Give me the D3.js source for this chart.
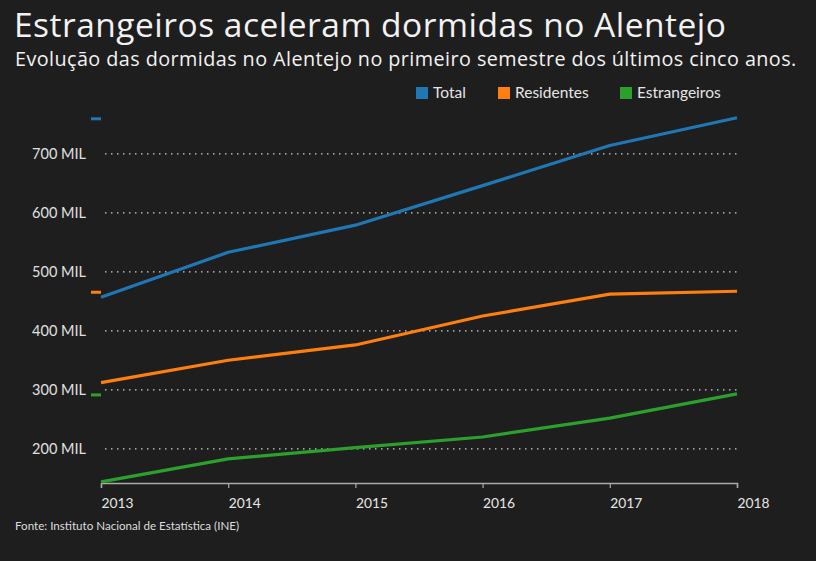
<!DOCTYPE html>
<html>
<head>
  <meta charset="utf-8">
  <script src="https://cdn.jsdelivr.net/npm/d3@7"></script>
  <style>
    body { margin: 0; background: #1e1e1e; }
    text { font-family: Lato, "Open Sans", sans-serif; }
    .head { font-family: "Open Sans", Lato, sans-serif; }
  </style>
</head>
<body>
<script>
  "use strict";

  // data (milhares de dormidas, 1.º semestre)
  var years = [2013, 2014, 2015, 2016, 2017, 2018];
  var total = [457, 533, 579, 646, 714, 761];
  var residentes = [312, 350, 376, 425, 462, 467];
  var estrangeiros = [144, 183, 202, 220, 252, 293];
  var seriesNames = ["Total", "Residentes", "Estrangeiros"];
  var seriesColors = ["#1f77b4", "#ff7f0e", "#2ca02c"];
  var yTicks = [200, 300, 400, 500, 600, 700];

  var width = 816, height = 561;
  var series = [total, residentes, estrangeiros];

  var svg = d3.select("body").append("svg")
      .attr("width", width)
      .attr("height", height);

  svg.append("rect").attr("width", width).attr("height", height).attr("fill", "#1e1e1e");

  var x = d3.scaleLinear().domain([2013, 2018]).range([101, 737]);
  var y = d3.scaleLinear().domain([142, 762]).range([483, 117.2]);

  /*
    titles
  */
  svg.append("text").attr("class", "head").attr("x", 14).attr("y", 37)
      .attr("fill", "#f2f2f2").attr("font-size", 33.5)
      .attr("letter-spacing", 0.5)
      .text("Estrangeiros aceleram dormidas no Alentejo");
  svg.append("text").attr("class", "head").attr("x", 15).attr("y", 66)
      .attr("fill", "#f2f2f2").attr("font-size", 19.8)
      .attr("letter-spacing", 0.43)
      .text("Evolução das dormidas no Alentejo no primeiro semestre dos últimos cinco anos.");

  // legend
  var legendX = [416, 498, 620];
  var legend = svg.selectAll(".legend").data(seriesNames).enter().append("g")
      .attr("transform", function(d, i) { return "translate(" + legendX[i] + ",87)"; });
  legend.append("rect").attr("width", 12).attr("height", 12)
      .attr("fill", function(d, i) { return seriesColors[i]; });
  legend.append("text").attr("x", 17).attr("y", 11)
      .attr("fill", "#e6e6e6").attr("font-size", 15.5)
      .text(function(d) { return d; });

  // grid + y labels
  var grid = svg.append("g");
  grid.selectAll("line").data(yTicks).enter().append("line")
      .attr("x1", 105).attr("x2", 737)
      .attr("y1", function(d) { return y(d); })
      .attr("y2", function(d) { return y(d); })
      .attr("stroke", "#d0d0d0").attr("stroke-width", 1.2)
      .attr("stroke-dasharray", "1.5,4.5");
  grid.selectAll("text").data(yTicks).enter().append("text")
      .attr("x", 86).attr("y", function(d) { return y(d) + 5; })
      .attr("text-anchor", "end")
      .attr("fill", "#e0e0e0").attr("font-size", 14.5)
      .text(function(d) { return d + " MIL"; });

  // x axis
  var xAxis = d3.axisBottom(x)
      .tickValues(years)
      .tickFormat(d3.format("d"))
      .tickSize(5)
      .tickSizeOuter(5);
  var gx = svg.append("g").attr("transform", "translate(0," + y(142) + ")").call(xAxis);
  gx.select(".domain").attr("stroke", "#aaaaaa").attr("stroke-width", 1.5);
  gx.selectAll(".tick line").attr("stroke", "#aaaaaa").attr("stroke-width", 1.2);
  gx.selectAll(".tick text")
      .attr("text-anchor", "start")
      .attr("dy", 0).attr("y", 25)
      .attr("fill", "#e6e6e6")
      .attr("font-size", 13.8)
      .attr("font-family", "Lato, 'Open Sans', sans-serif");

  // lines
  var line = d3.line()
      .x(function(d, i) { return x(years[i]); })
      .y(function(d) { return y(d); });

  svg.selectAll(".serie").data(series).enter().append("path")
      .attr("d", line)
      .attr("fill", "none")
      .attr("stroke", function(d, i) { return seriesColors[i]; })
      .attr("stroke-width", 3.2)
      .attr("stroke-linejoin", "round");

  // last-value markers on the left
  svg.selectAll(".marker").data(series).enter().append("rect")
      .attr("x", 91).attr("width", 10).attr("height", 3)
      .attr("y", function(d) { return y(d[d.length - 1]) - 0.5; })
      .attr("fill", function(d, i) { return seriesColors[i]; });

  // source
  svg.append("text").attr("x", 15).attr("y", 530)
      .attr("fill", "#dddddd").attr("font-size", 11.6)
      .text("Fonte: Instituto Nacional de Estatística (INE)");
</script>
</body>
</html>
